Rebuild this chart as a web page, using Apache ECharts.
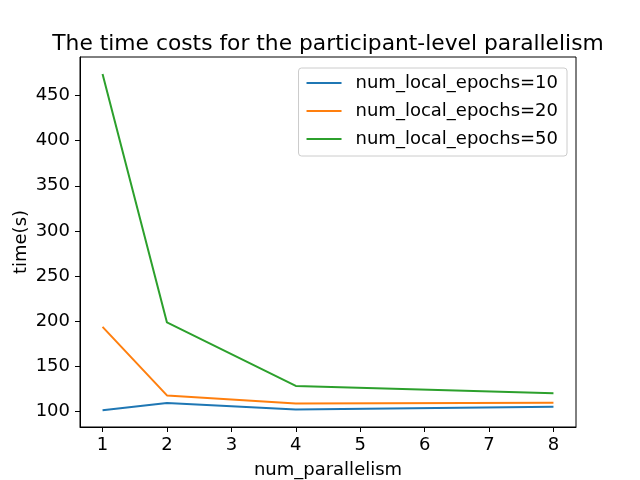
<!DOCTYPE html>
<html>
<head>
<meta charset="utf-8">
<script src="https://cdn.jsdelivr.net/npm/echarts@6/dist/echarts.min.js"></script>
<style>
  html, body { margin: 0; padding: 0; background: #fff; }
  #main { width: 640px; height: 480px; }
</style>
</head>
<body>
<div id="main"></div>
<script>
var parallelism = [1, 2, 4, 8];
var epochs10 = [101, 109, 102, 105];
var epochs20 = [193.5, 117.5, 108.5, 109.5];
var epochs50 = [474, 198.5, 128, 119.8];
var xTicks = [1, 2, 3, 4, 5, 6, 7, 8];
var yTicks = [100, 150, 200, 250, 300, 350, 400, 450];
var seriesNames = ['num_local_epochs=10', 'num_local_epochs=20', 'num_local_epochs=50'];

function pairs(ys) {
    return parallelism.map(function (x, i) { return [x, ys[i]]; });
}

var font = 'DejaVu Sans';
var myChart = echarts.init(document.getElementById('main'));
var option = {
    animation: false,
    backgroundColor: '#fff',
    color: ['#1f77b4', '#ff7f0e', '#2ca02c'],
    title: {
        text: 'The time costs for the participant-level parallelism',
        left: 323,
        textAlign: 'center',
        top: 28,
        textStyle: { fontFamily: font, fontSize: 21.8, fontWeight: 'normal', color: '#000' }
    },
    grid: {
        left: 80, right: 64, top: 57, bottom: 53,
        outerBoundsMode: 'none',
        show: true, borderColor: '#000', borderWidth: 1
    },
    legend: {
        orient: 'vertical',
        right: 73,
        top: 68,
        itemWidth: 35,
        itemHeight: 2,
        itemGap: 10,
        padding: [6, 9, 8, 8],
        icon: 'rect',
        backgroundColor: '#fff',
        borderColor: '#ccc',
        borderWidth: 1,
        borderRadius: 3,
        textStyle: { fontFamily: font, fontSize: 18, lineHeight: 18, color: '#000', padding: [0, 0, 0, 9] },
        data: seriesNames
    },
    xAxis: {
        type: 'value',
        min: 0.65,
        max: 8.35,
        name: 'num_parallelism',
        nameLocation: 'middle',
        nameGap: 34,
        nameMoveOverlap: false,
        nameTextStyle: { fontFamily: font, fontSize: 18, color: '#000' },
        axisLine: { show: true, lineStyle: { color: '#000' } },
        axisTick: { show: true, length: 5, customValues: xTicks, lineStyle: { color: '#000' } },
        axisLabel: { fontFamily: font, fontSize: 18, color: '#000', margin: 9, customValues: xTicks },
        splitLine: { show: false }
    },
    yAxis: {
        type: 'value',
        min: 82.5,
        max: 492.8,
        name: 'time(s)',
        nameLocation: 'middle',
        nameGap: 50,
        nameMoveOverlap: false,
        nameTextStyle: { fontFamily: font, fontSize: 18, color: '#000' },
        axisLine: { show: true, lineStyle: { color: '#000' } },
        axisTick: { show: true, length: 5, customValues: yTicks, lineStyle: { color: '#000' } },
        axisLabel: { fontFamily: font, fontSize: 18, color: '#000', margin: 10, customValues: yTicks },
        splitLine: { show: false }
    },
    series: [
        { name: seriesNames[0], type: 'line', data: pairs(epochs10), showSymbol: false, lineStyle: { width: 2 } },
        { name: seriesNames[1], type: 'line', data: pairs(epochs20), showSymbol: false, lineStyle: { width: 2 } },
        { name: seriesNames[2], type: 'line', data: pairs(epochs50), showSymbol: false, lineStyle: { width: 2 } }
    ]
};
myChart.setOption(option);
</script>
</body>
</html>
